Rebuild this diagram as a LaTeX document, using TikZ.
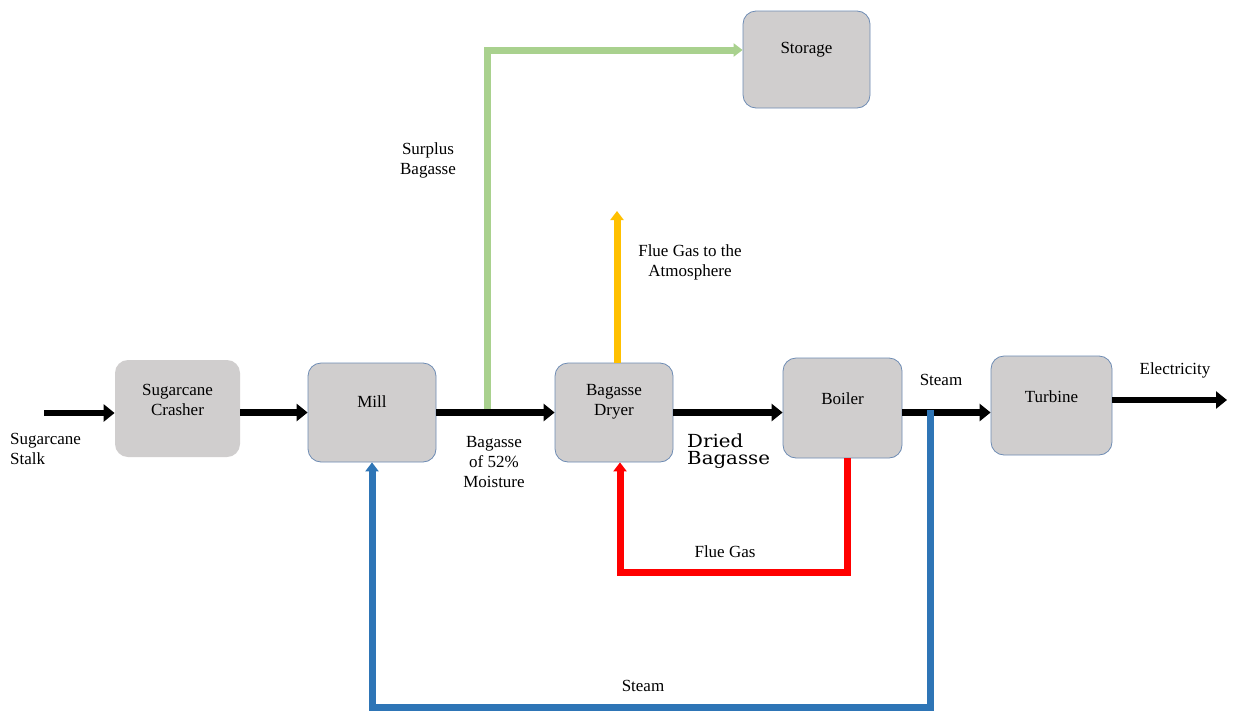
\documentclass[tikz,border=0pt]{standalone}
\usepackage{fontspec}
\setmainfont{Liberation Serif}
\newfontfamily\dfont[FakeStretch=1.1]{DejaVu Serif}
\usetikzlibrary{arrows.meta}
\definecolor{boxfill}{RGB}{208,206,206}
\definecolor{boxedge}{RGB}{110,140,180}
\definecolor{gflow}{RGB}{169,209,142}
\definecolor{yflow}{RGB}{255,192,0}
\definecolor{rflow}{RGB}{255,0,0}
\definecolor{bflow}{RGB}{46,117,182}
\begin{document}
\begin{tikzpicture}[x=1pt,y=-1pt,
  proc/.style={draw=boxedge, line width=0.8pt, fill=boxfill, rounded corners=13pt, inner sep=0pt},
  plain/.style={proc, draw=none},
  lbl/.style={font=\fontsize{17}{20}\selectfont, align=center, inner sep=0pt},
  dlbl/.style={font=\dfont\fontsize{18}{17}\selectfont, align=left, inner sep=0pt, anchor=north west},
  flow/.style={line width=6.5pt, black, -{Triangle[length=11pt,width=17pt]}},
  cflow/.style={line width=7pt, -{Triangle[length=9pt,width=13pt]}}
]
\useasboundingbox (0,0) rectangle (1233,712);
\fill[white] (0,0) rectangle (1233,712);

% boxes
\node[plain, minimum width=125pt, minimum height=97pt] (crusher) at (177.5,408.5) {};
\node[proc, minimum width=128pt, minimum height=99pt] (mill) at (372,412.5) {};
\node[proc, minimum width=118pt, minimum height=99pt] (dryer) at (614,412.5) {};
\node[proc, minimum width=119pt, minimum height=100pt] (boiler) at (842.5,408) {};
\node[proc, minimum width=121pt, minimum height=99pt] (turbine) at (1051.5,405.5) {};
\node[proc, minimum width=127pt, minimum height=97pt] (storage) at (806.5,59.5) {};

% box texts
\node[lbl] (tcrusher) at (177.5,400) {Sugarcane\\Crasher};
\node[lbl] (tmill) at (372,402) {Mill};
\node[lbl] (tdryer) at (614,402) {Bagasse\\Dryer};
\node[lbl] (tboiler) at (842.5,399) {Boiler};
\node[lbl] (tturbine) at (1051.5,397) {Turbine};
\node[lbl] (tstorage) at (806.5,50) {Storage};

% coordinates
\coordinate (in) at (44,413);
\coordinate (elec) at (1227,400);
\coordinate (gs) at (487,412.5);
\coordinate (atm) at (617,211);
\coordinate (fgc) at (847,572);
\coordinate (fgl) at (620,572);
\coordinate (st) at (930,410);
\coordinate (sb) at (930,707);
\coordinate (sl) at (372,707);

% green surplus
\draw[cflow, gflow] (gs) |- ([yshift=9.5pt]storage.west);

% black main line
\draw[flow] (in) -- (in -| crusher.west);
\draw[flow] (crusher.east |- mill.west) -- (mill.west);
\draw[flow] (mill.east) -- (dryer.west);
\draw[flow] (dryer.east) -- (dryer.east -| boiler.west);
\draw[flow] (boiler.east |- dryer.east) -- (dryer.east -| turbine.west);
\draw[flow] (turbine.east |- elec) -- (elec);

% yellow flue gas to atmosphere
\draw[cflow, yflow] (atm |- dryer.north) -- (atm);

% red flue gas
\draw[cflow, rflow] (fgc |- boiler.south) -- (fgc) -- (fgl) -- (fgl |- dryer.south);

% blue steam
\draw[cflow, bflow] (st) -- (sb) -- (sl) -- (mill.south);

% labels
\node[lbl, align=left, anchor=west] (lstalk) at (10,449) {Sugarcane\\Stalk};
\node[lbl] (lmoist) at (494,462) {Bagasse\\of 52\%\\Moisture};
\node[lbl] (lsurplus) at (428,160) {Surplus\\Bagasse};
\node[lbl] (latm) at (690,262) {Flue Gas to the\\Atmosphere};
\node[dlbl] (ldried) at (687,434) {Dried\\Bagasse};
\node[lbl] (lsteam) at (941,380) {Steam};
\node[lbl] (lelec) at (1175,370) {Electricity};
\node[lbl] (lflue) at (725,552) {Flue Gas};
\node[lbl] (lsteam2) at (643,686) {Steam};
\end{tikzpicture}
\end{document}
